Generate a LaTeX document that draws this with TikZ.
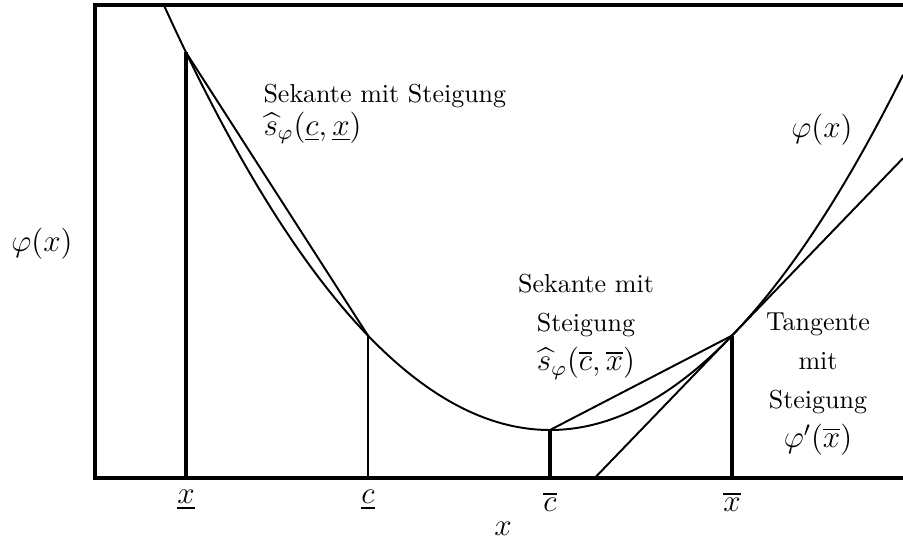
\documentclass[tikz,border=0pt]{standalone}
\usepackage{amsmath}
\usetikzlibrary{positioning, calc}
\tikzset{
	frameline/.style={
		line width=1.25pt, line cap=rect
	},
	curveline/.style={
		line width=0.75pt
	},
	markline/.style={
		line width=1.2pt
	},
	thinmark/.style={
		line width=0.7pt
	},
	ticklabel/.style={
		inner sep=1pt, font=\large
	},
	textlabel/.style={
		align=center, inner sep=0pt,
		font=\fontsize{10}{15}\selectfont
	}
}

\begin{document}
\begin{tikzpicture}[x=0.01352cm, y=-0.01352cm]
		\useasboundingbox (0,0) rectangle (903,540);
		\clip (0,0) rectangle (903,540);
		
		%% ═══════════════════════════════
		%%  Rahmen (rechts offen)
		%% ═══════════════════════════════
		\draw[frameline] (910,5) -- (95,5) -- (95,478) -- (910,478);
		\coordinate (axis) at (95,478);
		
		%% ═══════════════════════════════
		%%  Kurve phi(x) und Punkte darauf
		%% ═══════════════════════════════
		\draw[curveline] plot[domain=164:903, samples=120, smooth]
		(\x, {430-28.5*((\x-550)/100)^2});
		
		\coordinate (xlo) at (186,{430-28.5*3.64^2});
		\coordinate (clo) at (368,{430-28.5*1.82^2});
		\coordinate (cbar) at (550,430);
		\coordinate (xbar) at (732,{430-28.5*1.82^2});
		
		% Tangente in xbar
		\coordinate (tanlo) at (594.7,478);
		\coordinate (tanhi) at (903,158.2);
		
		%% ═══════════════════════════════
		%%  Senkrechte Linien
		%% ═══════════════════════════════
		\draw[markline] (xlo) -- (xlo |- axis);
		\draw[thinmark] (clo) -- (clo |- axis);
		\draw[markline] (cbar) -- (cbar |- axis);
		\draw[markline] (xbar) -- (xbar |- axis);
		
		% Sekanten
		\draw[curveline] (xlo) -- (clo);
		\draw[curveline] (cbar) -- (xbar);
		
		% Tangente
		\draw[curveline] (tanlo) -- (tanhi);
		
		%% ═══════════════════════════════
		%%  Beschriftungen
		%% ═══════════════════════════════
		\node[ticklabel] (labxlo) at (186,500) {$\underline{x}$};
		\node[ticklabel] (labclo) at (368,500) {$\underline{c}$};
		\node[ticklabel] (labcbar) at (550,502) {$\overline{c}$};
		\node[ticklabel] (labxbar) at (732,502) {$\overline{x}$};
		\node[ticklabel] (labx) at (503,529) {$x$};
		
		\node[ticklabel] (phileft) at (42,244) {$\varphi(x)$};
		\node[ticklabel] (phiright) at (822,130) {$\varphi(x)$};
		
		\node[textlabel, align=left, anchor=west,
		font=\fontsize{10}{12.7}\selectfont] (seklinks) at (263,114)
		{Sekante mit Steigung\\ {\large$\widehat{s}_\varphi(\underline{c},\underline{x})$}};
		
		\node[textlabel] (sekmitte) at (586,327)
		{Sekante mit\\ Steigung\\ {\large$\widehat{s}_\varphi(\overline{c},\overline{x})$}};
		
		\node[textlabel] (tangente) at (818,384)
		{Tangente\\ mit\\ Steigung\\ {\large$\varphi'(\overline{x})$}};
		
	\end{tikzpicture}
\end{document}
